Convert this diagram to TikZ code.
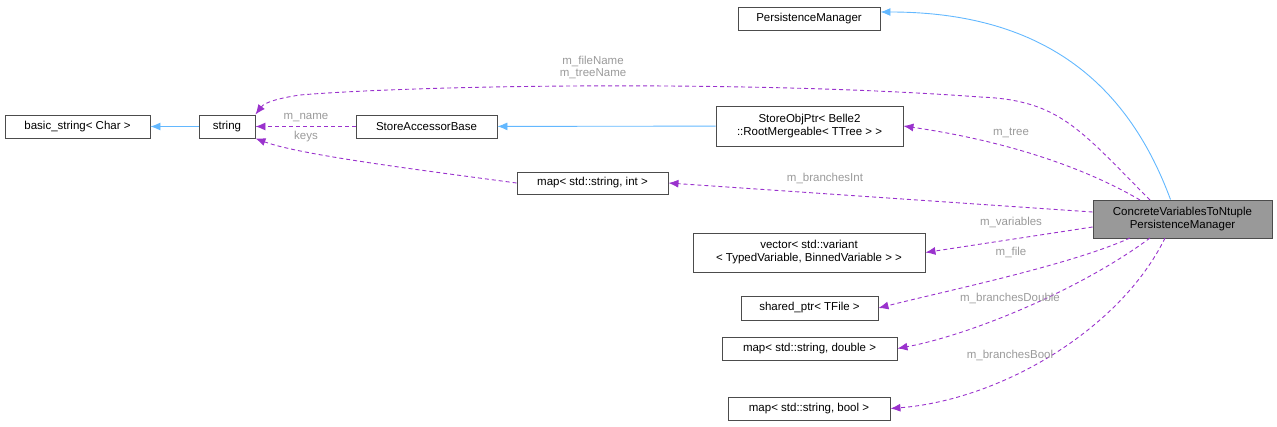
\documentclass[tikz,border=0pt]{standalone}
\usepackage{fontspec}
\setmainfont{Liberation Sans}
\usetikzlibrary{arrows.meta}
\definecolor{pur}{HTML}{9A32CD}
\definecolor{blu}{HTML}{63B8FF}
\definecolor{lab}{HTML}{9A9A9A}
\begin{document}
\begin{tikzpicture}[x=1pt,y=-1pt,
  box/.style={draw=black!70,fill=white,inner sep=0pt,line width=0.9pt,font=\fontsize{11.5}{13}\selectfont,align=center},
  dep/.style={pur,line width=0.9pt,dash pattern=on 4pt off 3pt,-{Latex[length=10pt,width=8pt]}},
  inh/.style={blu,line width=0.9pt,-{Latex[length=10pt,width=8pt]}},
  lb/.style={lab,font=\fontsize{11.5}{12}\selectfont,align=center,inner sep=0pt}]
\useasboundingbox (0,0) rectangle (1277,427);
\node[box,minimum width=142,minimum height=23] (pm) at (809,18.5) {PersistenceManager};
\node[box,minimum width=145,minimum height=23] (bs) at (77.5,126.5) {basic\_string< Char >};
\node[box,minimum width=56,minimum height=23] (st) at (227,126.5) {string};
\node[box,minimum width=141,minimum height=23] (sab) at (426.5,126.5) {StoreAccessorBase};
\node[box,minimum width=187,minimum height=40] (sop) at (809.5,126) {StoreObjPtr< Belle2\\::RootMergeable< TTree > >};
\node[box,minimum width=151,minimum height=22] (mi) at (592.5,183) {map< std::string, int >};
\node[box,minimum width=179,minimum height=38,fill=black!40] (c) at (1182.5,219) {ConcreteVariablesToNtuple\\PersistenceManager};
\node[box,minimum width=232,minimum height=39] (vec) at (809,252.5) {vector< std::variant\\< TypedVariable, BinnedVariable > >};
\node[box,minimum width=137,minimum height=24] (sp) at (809.5,308) {shared\_ptr< TFile >};
\node[box,minimum width=175,minimum height=23] (md) at (809.5,348.5) {map< std::string, double >};
\node[box,minimum width=162,minimum height=23] (mb) at (809,408.5) {map< std::string, bool >};

\draw[inh] (c.north) ++(-12,0) .. controls (1130,90) and (1050,12) .. (pm.east |- 0,12);
\draw[inh] (st) -- (bs);
\draw[inh] (sop) -- (sab);
\draw[dep] (sab) -- (st);
\node[lb] at (306,118) {m\_name};
\coordinate (c1) at (1150,200);
\draw[dep] (c1) .. controls (1080,130) and (1060,100) .. (980,97)
  .. controls (750,80) and (420,85) .. (300,95) .. controls (280,98) and (265,102) .. (st.north east);
\node[lb] at (593,67) {m\_fileName\\m\_treeName};
\draw[dep] (mi.west) .. controls (420,170) and (300,155) .. (st.south east);
\node[lb] at (306,137) {keys};
\coordinate (c2) at (1140,200);
\draw[dep] (c2) .. controls (1080,165) and (1000,140) .. (sop.east);
\node[lb] at (1011,133) {m\_tree};
\draw[dep] (c.west |- 0,212) -- (mi.east);
\node[lb] at (825,178) {m\_branchesInt};
\draw[dep] (c.west |- 0,227) -- (vec.east);
\node[lb] at (1011,222) {m\_variables};
\coordinate (c3) at (1130,238);
\draw[dep] (c3) .. controls (1070,265) and (950,290) .. (sp.east);
\node[lb] at (1011,252) {m\_file};
\coordinate (c4) at (1150,238);
\draw[dep] (c4) .. controls (1080,290) and (970,335) .. (md.east);
\node[lb] at (1010,298) {m\_branchesDouble};
\coordinate (c5) at (1165,238);
\draw[dep] (c5) .. controls (1120,330) and (1000,400) .. (mb.east);
\node[lb] at (1010,355) {m\_branchesBool};
\end{tikzpicture}
\end{document}
